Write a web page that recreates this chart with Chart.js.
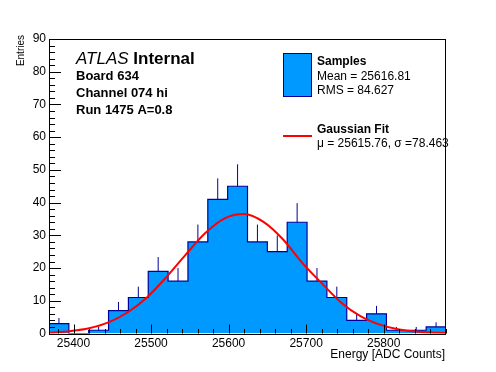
<!DOCTYPE html>
<html>
<head>
<meta charset="utf-8">
<script src="https://cdn.jsdelivr.net/npm/chart.js@4.4.1/dist/chart.umd.min.js"></script>
<style>
body{margin:0;background:#fff;}
#wrap{width:496px;height:372px;}
</style>
</head>
<body>
<div id="wrap"><canvas id="chart" width="496" height="372"></canvas></div>
<script>
// histogram bins, energy in ADC counts
var bin_centers = [25381.2, 25406.8, 25432.4, 25458.0, 25483.6, 25509.2, 25534.8, 25560.4, 25586.0, 25611.6,
                   25637.2, 25662.8, 25688.4, 25714.0, 25739.6, 25765.2, 25790.8, 25816.4, 25842.0, 25867.6];
var bin_counts  = [3, 0, 1, 7, 11, 19, 16, 28, 41, 45, 28, 25, 34, 16, 11, 4, 6, 1, 1, 2];
var bin_width   = 25.6;

// gaussian fit curve
var fit_x = [25370, 25395, 25420, 25445, 25470, 25495, 25520, 25545, 25570, 25595, 25620,
             25645, 25670, 25695, 25720, 25745, 25770, 25795, 25820, 25845, 25870, 25880];
var fit_y = [0.2, 0.7, 1.6, 3.4, 6.5, 11.1, 17.3, 24.2, 30.7, 35.2, 36.5,
             34.1, 28.8, 21.6, 15.4, 9.5, 5.3, 2.7, 1.2, 0.5, 0.2, 0.15];

var x_ticks = [25400, 25500, 25600, 25700, 25800];
var y_ticks = [0, 10, 20, 30, 40, 50, 60, 70, 80, 90];
var x_range = [25368.4, 25880.4];
var y_range = [0, 90];

var FILL = '#0099ff';
var LINE = '#000099';
var FONT = "'Liberation Sans', Arial, Helvetica, sans-serif";

// step outline of the histogram (left edges + last right edge)
var hist_points = [];
for (var i = 0; i < bin_centers.length; i++) {
    hist_points.push({x: bin_centers[i] - bin_width / 2, y: bin_counts[i]});
}
var last = bin_centers.length - 1;
hist_points.push({x: bin_centers[last] + bin_width / 2, y: bin_counts[last]});

// upper half of the poisson error bars (lower half is hidden by the fill)
var err_points = [];
for (var i = 0; i < bin_centers.length; i++) {
    if (bin_counts[i] <= 0) continue;
    err_points.push({x: bin_centers[i], y: bin_counts[i]});
    err_points.push({x: bin_centers[i], y: bin_counts[i] + Math.sqrt(bin_counts[i])});
    err_points.push({x: bin_centers[i], y: null});
}

var fit_points = [];
for (var i = 0; i < fit_x.length; i++) {
    fit_points.push({x: fit_x[i], y: fit_y[i]});
}

// frame, inward ticks, labels and legend in ROOT style
var decor = {
    id: 'decor',
    afterDraw: function(chart) {
        var ctx = chart.ctx, a = chart.chartArea;
        var xs = chart.scales.x, ys = chart.scales.y;
        ctx.save();
        ctx.strokeStyle = '#000';
        ctx.lineWidth = 1;
        ctx.beginPath();
        // y ticks
        for (var v = y_range[0]; v <= y_range[1]; v += 2) {
            var py = Math.round(ys.getPixelForValue(v)) + 0.5;
            var len = (v % 10 === 0) ? 12 : 6;
            ctx.moveTo(a.left, py);
            ctx.lineTo(a.left + len, py);
        }
        // x ticks
        for (var v = 25380; v <= x_range[1]; v += 20) {
            var px = Math.round(xs.getPixelForValue(v)) + 0.5;
            var len2 = (v % 100 === 0) ? 9 : 4.5;
            ctx.moveTo(px, a.bottom);
            ctx.lineTo(px, a.bottom - len2);
        }
        ctx.stroke();
        ctx.strokeRect(Math.round(a.left) + 0.5, Math.round(a.top) + 0.5,
                       Math.round(a.right - a.left) - 1, Math.round(a.bottom - a.top));

        ctx.fillStyle = '#000';
        ctx.textBaseline = 'alphabetic';
        ctx.textAlign = 'left';
        // ATLAS label
        ctx.font = 'italic 17px ' + FONT;
        ctx.fillText('ATLAS', 76, 64);
        var w = ctx.measureText('ATLAS ').width;
        ctx.font = 'bold 17px ' + FONT;
        ctx.fillText('Internal', 76 + w, 64);
        ctx.font = 'bold 13px ' + FONT;
        ctx.fillText('Board 634', 76, 80);
        ctx.fillText('Channel 074 hi', 76, 97);
        ctx.fillText('Run 1475 A=0.8', 76, 114);

        // legend
        ctx.fillStyle = FILL;
        ctx.fillRect(283.5, 53.5, 28, 43);
        ctx.strokeStyle = LINE;
        ctx.strokeRect(283.5, 53.5, 28, 43);
        ctx.strokeStyle = '#ff0000';
        ctx.lineWidth = 2;
        ctx.beginPath();
        ctx.moveTo(283, 136);
        ctx.lineTo(312, 136);
        ctx.stroke();
        ctx.fillStyle = '#000';
        ctx.font = 'bold 12px ' + FONT;
        ctx.fillText('Samples', 317, 65);
        ctx.fillText('Gaussian Fit', 317, 133);
        ctx.font = '12px ' + FONT;
        ctx.fillText('Mean = 25616.81', 317, 80);
        ctx.fillText('RMS = 84.627', 317, 94);
        ctx.fillText('\u03bc = 25615.76, \u03c3 =78.463', 317, 147);

        // axis titles
        ctx.textAlign = 'right';
        ctx.fillText('Energy [ADC Counts]', 445, 358);
        ctx.save();
        ctx.translate(24, 35);
        ctx.rotate(-Math.PI / 2);
        ctx.font = '10px ' + FONT;
        ctx.fillText('Entries', 0, 0);
        ctx.restore();
        ctx.restore();
    }
};

var context = document.getElementById('chart').getContext('2d');
var myChart = new Chart(context, {
    type: 'line',
    data: {
        datasets: [{
            label: 'Gaussian Fit',
            data: fit_points,
            borderColor: '#ff0000',
            borderWidth: 2,
            pointRadius: 0,
            cubicInterpolationMode: 'monotone',
            fill: false,
            order: 0
        }, {
            label: 'errors',
            data: err_points,
            borderColor: LINE,
            borderWidth: 1,
            pointRadius: 0,
            spanGaps: false,
            fill: false,
            order: 1
        }, {
            label: 'Samples',
            data: hist_points,
            borderColor: LINE,
            backgroundColor: FILL,
            borderWidth: 1.2,
            pointRadius: 0,
            stepped: true,
            fill: 'origin',
            order: 2
        }]
    },
    options: {
        responsive: false,
        animation: false,
        layout: {padding: {top: 39, right: 50, left: 0, bottom: 0}},
        plugins: {legend: {display: false}, tooltip: {enabled: false}},
        scales: {
            x: {
                type: 'linear',
                min: x_range[0],
                max: x_range[1],
                grid: {display: false, drawTicks: false},
                border: {display: false},
                afterBuildTicks: function(scale) {
                    scale.ticks = x_ticks.map(function(v){ return {value: v}; });
                },
                afterFit: function(scale) { scale.height = 38.5; },
                ticks: {
                    autoSkip: false,
                    maxRotation: 0,
                    padding: 3,
                    color: '#000',
                    font: {family: FONT, size: 12},
                    callback: function(v){ return String(v); }
                }
            },
            y: {
                min: y_range[0],
                max: y_range[1],
                grid: {display: false, drawTicks: false},
                border: {display: false},
                afterBuildTicks: function(scale) {
                    scale.ticks = y_ticks.map(function(v){ return {value: v}; });
                },
                afterFit: function(scale) { scale.width = 49; },
                ticks: {
                    padding: 3,
                    color: '#000',
                    font: {family: FONT, size: 12}
                }
            }
        }
    },
    plugins: [decor]
});
</script>
</body>
</html>
